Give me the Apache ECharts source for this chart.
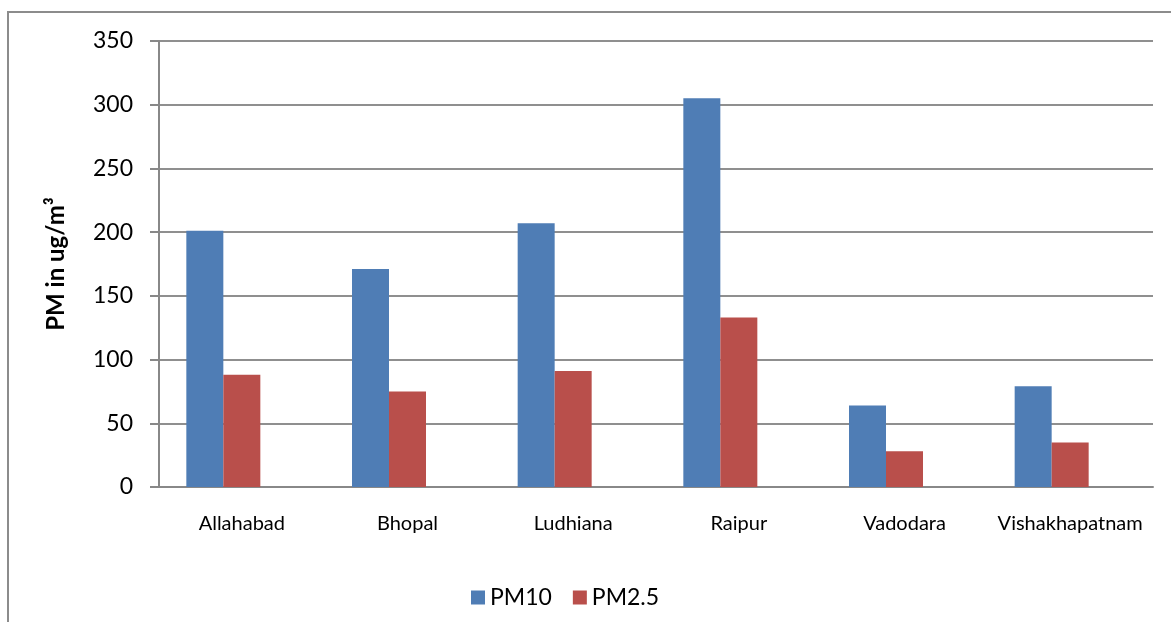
<!DOCTYPE html>
<html>
<head>
<meta charset="utf-8">
<script src="https://cdn.jsdelivr.net/npm/echarts@6/dist/echarts.min.js"></script>
<style>
html,body{margin:0;padding:0;background:#fff;}
#c{width:1171px;height:622px;}
</style>
</head>
<body>
<div id="c"></div>
<script>
var categories = ['Allahabad', 'Bhopal', 'Ludhiana', 'Raipur', 'Vadodara', 'Vishakhapatnam'];
var pm10 = [201, 171, 207, 305, 64, 79];
var pm25 = [88, 75, 91, 133, 28, 35];
var yTicks = [0, 50, 100, 150, 200, 250, 300, 350];

var chart = echarts.init(document.getElementById('c'), null, {renderer: 'canvas'});
var font = 'Lato, "Open Sans", sans-serif';
chart.setOption({
  animation: false,
  backgroundColor: '#ffffff',
  graphic: [{
    type: 'rect',
    shape: {x: 8, y: 12, width: 1200, height: 700},
    style: {fill: 'none', stroke: '#8c8c8c', lineWidth: 2},
    silent: true
  }],
  grid: {left: 159, top: 41, right: 18, bottom: 135, containLabel: false},
  legend: {
    data: ['PM10', 'PM2.5'],
    left: 466,
    top: 581,
    itemWidth: 14,
    itemHeight: 14,
    itemGap: 21,
    icon: 'rect',
    textStyle: {fontFamily: font, fontSize: 23, color: '#000', padding: [0, 0, 0, 0]}
  },
  xAxis: {
    type: 'category',
    data: categories,
    axisLine: {lineStyle: {color: '#888888', width: 2}},
    axisTick: {show: false},
    axisLabel: {fontFamily: font, fontSize: 20, color: '#000', margin: 27, interval: 0, hideOverlap: false}
  },
  yAxis: {
    type: 'value',
    min: yTicks[0],
    max: yTicks[yTicks.length - 1],
    interval: 50,
    name: 'PM in ug/m\u00b3',
    nameLocation: 'middle',
    nameGap: 91,
    nameTextStyle: {fontFamily: font, fontSize: 24, fontWeight: 'bold', color: '#000'},
    axisLine: {show: true, lineStyle: {color: '#888888', width: 2}},
    axisTick: {show: true, length: 9, inside: false, lineStyle: {color: '#888888', width: 2}},
    splitLine: {lineStyle: {color: '#8f8f8f', width: 2}},
    axisLabel: {fontFamily: font, fontSize: 23, color: '#000', margin: 26}
  },
  series: [
    {name: 'PM10', type: 'bar', data: pm10, barWidth: 37, barGap: '0%',
     itemStyle: {color: '#4F7DB5'}},
    {name: 'PM2.5', type: 'bar', data: pm25, barWidth: 37, barGap: '0%',
     itemStyle: {color: '#B94F4B'}},
    {name: 'spacer', type: 'bar', data: [], barWidth: 37, barGap: '0%', silent: true}
  ]
});
</script>
</body>
</html>
